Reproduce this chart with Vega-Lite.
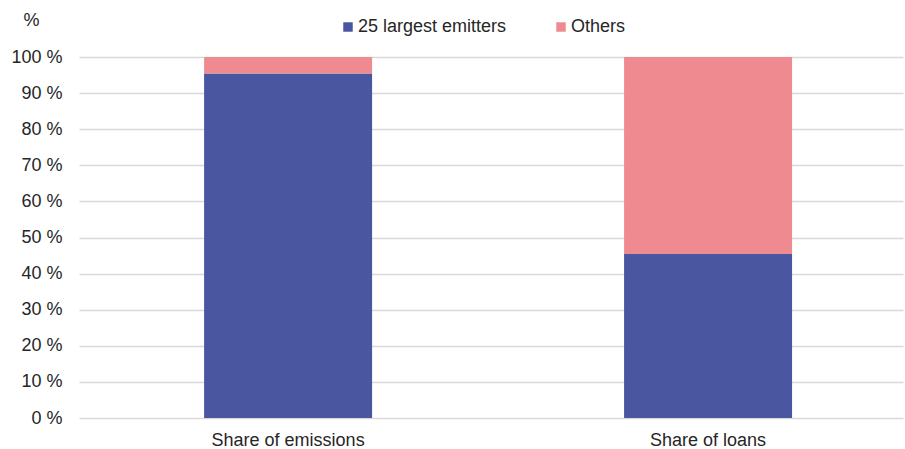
{
  "$schema": "https://vega.github.io/schema/vega-lite/v6.json",
  "width": 824,
  "height": 361,
  "autosize": {"type": "none"},
  "padding": {"left": 79, "top": 57, "right": 2, "bottom": 31},
  "background": "white",
  "config": {
    "font": "Liberation Sans",
    "view": {"stroke": null}
  },
  "data": {
    "values": [
      {"category": "Share of emissions", "series": "25 largest emitters", "value": 95.4},
      {"category": "Share of emissions", "series": "Others", "value": 4.6},
      {"category": "Share of loans", "series": "25 largest emitters", "value": 45.4},
      {"category": "Share of loans", "series": "Others", "value": 54.6}
    ]
  },
  "mark": {"type": "bar"},
  "encoding": {
    "x": {
      "field": "category",
      "type": "nominal",
      "sort": null,
      "scale": {"paddingInner": 0.6, "paddingOuter": 0.281, "align": 0.53},
      "axis": {
        "title": null,
        "labelAngle": 0,
        "domain": false,
        "ticks": false,
        "labelFontSize": 18,
        "labelColor": "#262626",
        "labelPadding": 13
      }
    },
    "y": {
      "field": "value",
      "type": "quantitative",
      "stack": "zero",
      "scale": {"domain": [0, 100], "nice": false},
      "axis": {
        "values": [0, 10, 20, 30, 40, 50, 60, 70, 80, 90, 100],
        "labelExpr": "datum.value + ' %'",
        "domain": false,
        "ticks": false,
        "labelFontSize": 18,
        "labelColor": "#262626",
        "labelPadding": 17,
        "gridColor": "#D9D9D9",
        "gridWidth": 1.5,
        "title": "%",
        "titleAngle": 0,
        "titleFontSize": 18,
        "titleFontWeight": "normal",
        "titleColor": "#262626",
        "titleAlign": "center",
        "titleBaseline": "middle",
        "titleX": -48,
        "titleY": -37
      }
    },
    "color": {
      "field": "series",
      "type": "nominal",
      "scale": {"domain": ["25 largest emitters", "Others"], "range": ["#4B56A1", "#F08A91"]},
      "legend": {
        "title": null,
        "orient": "none",
        "direction": "horizontal",
        "legendX": 260,
        "legendY": -39,
        "symbolType": "square",
        "symbolSize": 90,
        "symbolStrokeWidth": 0,
        "labelFontSize": 18,
        "labelColor": "#262626",
        "labelOffset": 1,
        "columnPadding": 45
      }
    },
    "order": {"field": "series", "sort": "ascending"}
  }
}
